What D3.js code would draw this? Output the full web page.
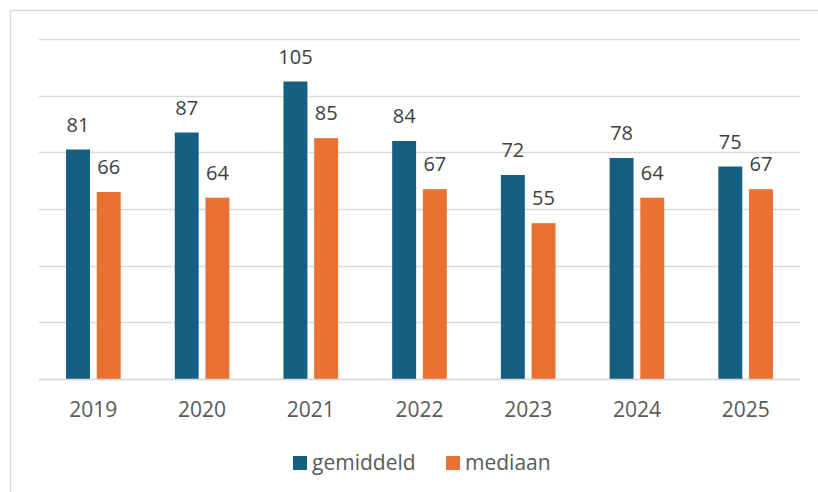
<!DOCTYPE html>
<html>
<head>
<meta charset="utf-8">
<script src="https://cdn.jsdelivr.net/npm/d3@7"></script>
<style>
  body { margin: 0; background: #ffffff; }
  svg { display: block; font-family: 'Open Sans', sans-serif; }
</style>
</head>
<body>
<div id="chart"></div>
<script>
const years = ['2019', '2020', '2021', '2022', '2023', '2024', '2025'];
const gemiddeld = [81, 87, 105, 84, 72, 78, 75];
const mediaan = [66, 64, 85, 67, 55, 64, 67];
const seriesNames = ['gemiddeld', 'mediaan'];
const colors = ['#156082', '#E97132'];

const width = 818, height = 492;
const margin = {top: 39, right: 18, bottom: 113, left: 39};

const svg = d3.select('#chart')
    .append('svg')
    .attr('width', width)
    .attr('height', height);

// chart frame
svg.append('rect')
    .attr('x', 10.5)
    .attr('y', 10.5)
    .attr('width', width + 20)
    .attr('height', height + 20)
    .attr('fill', '#ffffff')
    .attr('stroke', '#d9d9d9')
    .attr('stroke-width', 1.5);

const x = d3.scaleBand()
    .domain(years)
    .range([margin.left, width - margin.right]);

const x1 = d3.scaleBand()
    .domain(seriesNames)
    .range([0, x.bandwidth()])
    .paddingInner(0.22)
    .paddingOuter(0.88);

const y = d3.scaleLinear()
    .domain([0, 120])
    .range([height - margin.bottom, margin.top]);

// gridlines
svg.append('g')
    .selectAll('line')
    .data(y.ticks(6))
    .join('line')
    .attr('x1', margin.left)
    .attr('x2', width - margin.right)
    .attr('y1', d => Math.round(y(d)) + 0.5)
    .attr('y2', d => Math.round(y(d)) + 0.5)
    .attr('stroke', '#d9d9d9')
    .attr('stroke-width', 1.5);

const rows = years.map((yr, i) => ({year: yr, values: [gemiddeld[i], mediaan[i]]}));

const groups = svg.append('g')
    .selectAll('g')
    .data(rows)
    .join('g')
    .attr('transform', d => `translate(${x(d.year)},0)`);

groups.selectAll('rect')
    .data(d => d.values.map((v, k) => ({key: seriesNames[k], value: v, color: colors[k]})))
    .join('rect')
    .attr('x', d => x1(d.key))
    .attr('width', x1.bandwidth())
    .attr('y', d => y(d.value))
    .attr('height', d => y(0) - y(d.value))
    .attr('fill', d => d.color);

groups.selectAll('text')
    .data(d => d.values.map((v, k) => ({key: seriesNames[k], value: v})))
    .join('text')
    .attr('x', d => x1(d.key) + x1.bandwidth() / 2)
    .attr('y', d => y(d.value) - 18)
    .attr('text-anchor', 'middle')
    .style('font-size', '20px')
    .style('fill', '#404040')
    .text(d => d.value);

// baseline
svg.append('line')
    .attr('x1', margin.left)
    .attr('x2', width - margin.right)
    .attr('y1', Math.round(y(0)) + 0.5)
    .attr('y2', Math.round(y(0)) + 0.5)
    .attr('stroke', '#d9d9d9')
    .attr('stroke-width', 1.5);

// year labels
svg.append('g')
    .selectAll('text')
    .data(years)
    .join('text')
    .attr('x', d => x(d) + x.bandwidth() / 2)
    .attr('y', y(0) + 38)
    .attr('text-anchor', 'middle')
    .style('font-size', '21px')
    .style('fill', '#595959')
    .text(d => d);

// legend
const legendX = [293, 446];
const legend = svg.append('g')
    .selectAll('g')
    .data(seriesNames)
    .join('g')
    .attr('transform', (d, i) => `translate(${legendX[i]},456)`);

legend.append('rect')
    .attr('width', 14)
    .attr('height', 14)
    .attr('fill', (d, i) => colors[i]);

legend.append('text')
    .attr('x', 19)
    .attr('y', 14)
    .style('font-size', '21px')
    .style('fill', '#595959')
    .text(d => d);
</script>
</body>
</html>
